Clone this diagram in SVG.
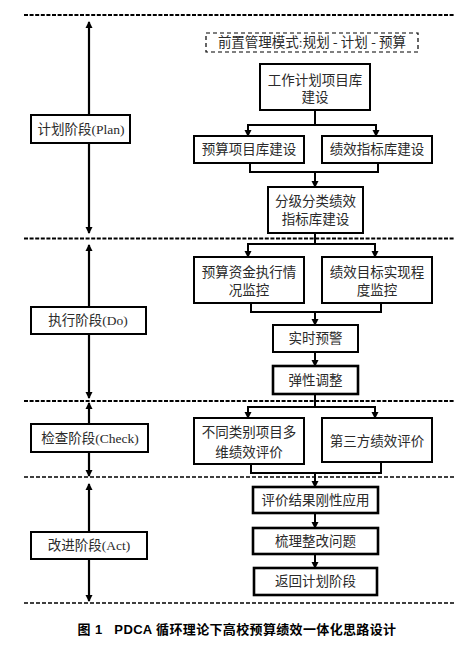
<svg xmlns="http://www.w3.org/2000/svg" width="473" height="646" viewBox="0 0 473 646">
<style>
.bg{fill:#fff}
.box{fill:#fff;stroke:#000;stroke-width:2}
.box2{fill:#fff;stroke:#000;stroke-width:2.6}
.dbox{fill:#fff;stroke:#000;stroke-width:1.2;stroke-dasharray:4 3}
.sep{stroke:#000;stroke-width:2;stroke-dasharray:4 1.6;fill:none}
.sep2{stroke:#000;stroke-width:1.4;stroke-dasharray:4 2;fill:none}
.ln{stroke:#000;stroke-width:2;fill:none}
.ar{stroke:#000;stroke-width:2;fill:none;marker-end:url(#ah)}
.ph{stroke:#000;stroke-width:2.2;fill:none;marker-start:url(#ahs);marker-end:url(#ah)}
text{font-family:"Liberation Serif","Noto Sans CJK SC",serif;font-size:13.5px;fill:#2a2a2a;text-anchor:middle;dominant-baseline:central}
.cap{font-family:"Liberation Sans","Noto Sans CJK SC",sans-serif;font-size:13px;font-weight:bold;fill:#000;letter-spacing:0.35px}
</style>
<defs>
<marker id="ah" markerWidth="7" markerHeight="8" refX="6" refY="3.5" orient="auto" markerUnits="userSpaceOnUse">
<path d="M0,0 L7,3.5 L0,7 Z" fill="#000"/>
</marker>
<marker id="ahs" markerWidth="7" markerHeight="8" refX="1" refY="3.5" orient="auto" markerUnits="userSpaceOnUse">
<path d="M7,0 L0,3.5 L7,7 Z" fill="#000"/>
</marker>
</defs>
<rect class="bg" x="0" y="0" width="473" height="646"/>

<g id="separators">
<line class="sep" x1="24" y1="15" x2="455" y2="15"/>
<line class="sep" x1="24" y1="238.5" x2="455" y2="238.5"/>
<line class="sep" x1="24" y1="401" x2="455" y2="401"/>
<line class="sep2" x1="24" y1="477" x2="455" y2="477"/>
<line class="sep2" x1="24" y1="603" x2="455" y2="603"/>
</g>

<g id="connectors">
<line class="ph" x1="89" y1="22" x2="89" y2="114" style="marker-end:none"/>
<line class="ph" x1="89" y1="144" x2="89" y2="233" style="marker-start:none"/>
<line class="ph" x1="89" y1="245" x2="89" y2="306" style="marker-end:none"/>
<line class="ph" x1="89" y1="335" x2="89" y2="398" style="marker-start:none"/>
<line class="ph" x1="89" y1="403" x2="89" y2="424" style="marker-end:none"/>
<line class="ph" x1="89" y1="452" x2="89" y2="476" style="marker-start:none"/>
<line class="ph" x1="89" y1="484" x2="89" y2="532" style="marker-end:none"/>
<line class="ph" x1="89" y1="559" x2="89" y2="601" style="marker-start:none"/>
<polyline class="ln" points="315,110 315,125"/>
<polyline class="ln" points="248,125 376,125"/>
<line class="ar" x1="248" y1="124" x2="248" y2="136"/>
<line class="ar" x1="376" y1="124" x2="376" y2="136"/>
<polyline class="ln" points="250,163 250,172 378,172 378,163"/>
<line class="ar" x1="315" y1="172" x2="315" y2="187"/>
<polyline class="ln" points="315,233 315,244"/>
<polyline class="ln" points="248,244 375,244"/>
<line class="ar" x1="248" y1="243" x2="248" y2="257"/>
<line class="ar" x1="375" y1="243" x2="375" y2="257"/>
<polyline class="ln" points="251,303 251,312 381,312 381,303"/>
<line class="ar" x1="315" y1="312" x2="315" y2="325"/>
<line class="ar" x1="315" y1="352" x2="315" y2="366"/>
<polyline class="ln" points="315,394 315,407"/>
<polyline class="ln" points="248,407 375,407"/>
<line class="ar" x1="248" y1="406" x2="248" y2="418"/>
<line class="ar" x1="375" y1="406" x2="375" y2="418"/>
<polyline class="ln" points="251,464 251,473 381,473 381,462"/>
<line class="ar" x1="315" y1="473" x2="315" y2="487"/>
<line class="ar" x1="315" y1="513" x2="315" y2="528"/>
<line class="ar" x1="315" y1="554" x2="315" y2="568"/>
</g>

<g id="plan-label">
<rect class="box" x="31" y="115" width="99" height="28"/>
<text x="81" y="129">计划阶段(Plan)</text>
</g>
<g id="do-label">
<rect class="box" x="31" y="307" width="115" height="27"/>
<text x="88" y="320.5">执行阶段(Do)</text>
</g>
<g id="check-label">
<rect class="box" x="31" y="424" width="117" height="28"/>
<text x="90" y="438">检查阶段(Check)</text>
</g>
<g id="act-label">
<rect class="box" x="31" y="532" width="116" height="27"/>
<text x="89" y="545.5">改进阶段(Act)</text>
</g>

<g id="mode">
<rect class="dbox" x="206" y="33" width="212" height="19"/>
<text x="312" y="42.5">前置管理模式:规划 - 计划 - 预算</text>
</g>
<g id="n1">
<rect class="box" x="260" y="64" width="110" height="46"/>
<text x="315" y="80">工作计划项目库</text>
<text x="315" y="97">建设</text>
</g>
<g id="n2">
<rect class="box" x="194" y="136" width="110" height="27"/>
<text x="249" y="149.5">预算项目库建设</text>
</g>
<g id="n3">
<rect class="box" x="322" y="136" width="110" height="27"/>
<text x="377" y="149.5">绩效指标库建设</text>
</g>
<g id="n4">
<rect class="box" x="268" y="187" width="95" height="46"/>
<text x="315.5" y="201">分级分类绩效</text>
<text x="315.5" y="219">指标库建设</text>
</g>
<g id="n5">
<rect class="box" x="194" y="257" width="110" height="46"/>
<text x="249" y="272">预算资金执行情</text>
<text x="249" y="290">况监控</text>
</g>
<g id="n6">
<rect class="box" x="322" y="257" width="110" height="46"/>
<text x="377" y="272">绩效目标实现程</text>
<text x="377" y="290">度监控</text>
</g>
<g id="n7">
<rect class="box" x="273" y="325" width="85" height="27"/>
<text x="315.5" y="338.5">实时预警</text>
</g>
<g id="n8">
<rect class="box2" x="273" y="366" width="85" height="28"/>
<text x="315.5" y="380">弹性调整</text>
</g>
<g id="n9">
<rect class="box" x="194" y="418" width="110" height="46"/>
<text x="249" y="432">不同类别项目多</text>
<text x="249" y="452">维绩效评价</text>
</g>
<g id="n10">
<rect class="box" x="322" y="418" width="110" height="44"/>
<text x="377" y="441">第三方绩效评价</text>
</g>
<g id="n11">
<rect class="box2" x="253" y="487" width="125" height="26"/>
<text x="315.5" y="500">评价结果刚性应用</text>
</g>
<g id="n12">
<rect class="box2" x="253" y="528" width="125" height="26"/>
<text x="315.5" y="541">梳理整改问题</text>
</g>
<g id="n13">
<rect class="box2" x="254" y="568" width="123" height="27"/>
<text x="315.5" y="581.5">返回计划阶段</text>
</g>

<text class="cap" x="237" y="629" xml:space="preserve">图 1   PDCA 循环理论下高校预算绩效一体化思路设计</text>
</svg>
